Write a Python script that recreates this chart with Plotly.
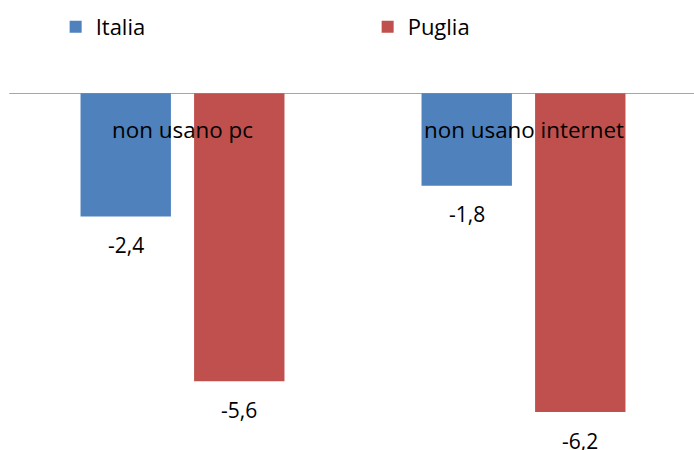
import plotly.graph_objects as go

categories = ["non usano pc", "non usano internet"]
italia = [-2.4, -1.8]
puglia = [-5.6, -6.2]
series_names = ["Italia", "Puglia"]
colors = ["#4F81BD", "#C0504D"]

FONT = "Open Sans"

def fmt(v):
    return f"{v:.1f}".replace(".", ",")

fig = go.Figure()
for name, vals, col in zip(series_names, [italia, puglia], colors):
    fig.add_trace(go.Bar(x=categories, y=vals, name=name, marker=dict(color=col, line=dict(width=0))))

annotations = []
offsets = [-0.1665, 0.1665]
for vals, off in zip([italia, puglia], offsets):
    for i, v in enumerate(vals):
        annotations.append(dict(x=i + off, y=v, xref="x", yref="y", text=fmt(v), showarrow=False,
                                yanchor="middle", yshift=-28.5, font=dict(family=FONT, size=21, color="#000")))
for i, c in enumerate(categories):
    annotations.append(dict(x=i, y=0, xref="x", yref="y", text=c, showarrow=False,
                            yanchor="middle", yshift=-36, font=dict(family=FONT, size=22.4, color="#000")))

fig.update_layout(
    width=694, height=450,
    margin=dict(l=12, r=0, t=93, b=7, autoexpand=False),
    paper_bgcolor="white", plot_bgcolor="white",
    barmode="group", bargap=0.334, bargroupgap=0.204,
    font=dict(family=FONT, size=22, color="#000"),
    showlegend=True,
    legend=dict(orientation="h", x=0.064, xanchor="left", y=1.189, yanchor="middle",
                entrywidth=267, entrywidthmode="pixels", font=dict(family=FONT, size=22),
                itemwidth=30, bgcolor="rgba(0,0,0,0)"),
    xaxis=dict(type="category", showticklabels=False, showgrid=False, zeroline=False, showline=False, ticks=""),
    yaxis=dict(range=[-6.8, 0], showticklabels=False, showgrid=False, zeroline=False, showline=False, ticks=""),
    annotations=annotations,
    shapes=[dict(type="line", xref="paper", yref="y", x0=-0.004, x1=1, y0=0, y1=0,
                 line=dict(color="#898989", width=1.5), layer="above")],
)

fig.write_html("out.html", config={"displayModeBar": False},
               post_script="document.body.style.margin='0';document.body.style.padding='0';")
